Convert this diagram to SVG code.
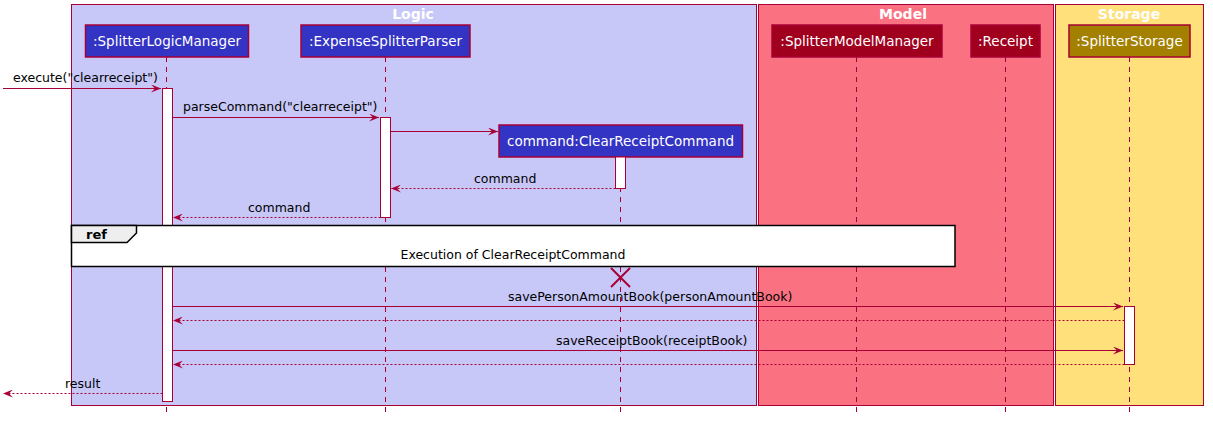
<svg xmlns="http://www.w3.org/2000/svg" width="1213" height="422" viewBox="0 0 1213 422">
<style>
.grp{stroke:#A80036;stroke-width:1}
.gt{font-family:"DejaVu Sans","Liberation Sans",sans-serif;font-size:14px;font-weight:bold;fill:#FFFFFF;text-anchor:middle}
.pbox{stroke:#A80036;stroke-width:1.5}
.pt{font-family:"DejaVu Sans","Liberation Sans",sans-serif;font-size:13.5px;fill:#FFFFFF;text-anchor:middle}
.life{stroke:#A80036;stroke-width:1;stroke-dasharray:5,5;fill:none}
.act{fill:#FFFFFF;stroke:#A80036;stroke-width:1}
.msg{stroke:#A80036;stroke-width:1;fill:none;marker-end:url(#ah)}
.ret{stroke:#A80036;stroke-width:1;stroke-dasharray:2,2;fill:none;marker-end:url(#ah)}
.ml{font-family:"DejaVu Sans","Liberation Sans",sans-serif;font-size:12.5px;fill:#000000}
</style>
<defs>
<marker id="ah" viewBox="0 0 10 8" refX="10" refY="4" markerWidth="10" markerHeight="8" markerUnits="userSpaceOnUse" orient="auto">
<path d="M0,0 L10,4 L0,8 L4,4 Z" fill="#A80036"/>
</marker>
</defs>
<rect width="1213" height="422" fill="#FFFFFF"/>
<g id="box-logic">
<rect class="grp" x="71.5" y="4.5" width="685" height="401" fill="#C8C8F8"/>
<text class="gt" x="413" y="19">Logic</text>
</g>
<g id="box-model">
<rect class="grp" x="758.5" y="4.5" width="295" height="401" fill="#FA7282"/>
<text class="gt" x="903" y="19">Model</text>
</g>
<g id="box-storage">
<rect class="grp" x="1055.5" y="4.5" width="148" height="401" fill="#FFE07A"/>
<text class="gt" x="1129" y="19">Storage</text>
</g>
<g id="lifelines">
<line class="life" x1="166.5" y1="57" x2="166.5" y2="412"/>
<line class="life" x1="385.5" y1="57" x2="385.5" y2="412"/>
<line class="life" x1="620.5" y1="157" x2="620.5" y2="412"/>
<line class="life" x1="856.5" y1="57" x2="856.5" y2="412"/>
<line class="life" x1="1005.5" y1="57" x2="1005.5" y2="412"/>
<line class="life" x1="1129.5" y1="57" x2="1129.5" y2="412"/>
</g>
<g id="p-logicmanager">
<rect class="pbox" x="85.5" y="25" width="163" height="32" fill="#3333C4"/>
<text class="pt" x="167" y="46">:SplitterLogicManager</text>
</g>
<g id="p-parser">
<rect class="pbox" x="301" y="25" width="169" height="32" fill="#3333C4"/>
<text class="pt" x="385.5" y="46">:ExpenseSplitterParser</text>
</g>
<g id="p-modelmanager">
<rect class="pbox" x="772" y="25" width="170" height="32" fill="#A0001E"/>
<text class="pt" x="857" y="46">:SplitterModelManager</text>
</g>
<g id="p-receipt">
<rect class="pbox" x="971" y="25" width="69" height="32" fill="#A0001E"/>
<text class="pt" x="1005.5" y="46">:Receipt</text>
</g>
<g id="p-storage">
<rect class="pbox" x="1069" y="25" width="121" height="32" fill="#A38000"/>
<text class="pt" x="1129.5" y="46">:SplitterStorage</text>
</g>
<g id="p-command">
<rect class="pbox" x="499" y="125" width="243.5" height="32" fill="#3333C4"/>
<text class="pt" x="620.5" y="146">command:ClearReceiptCommand</text>
</g>
<g id="activations">
<rect class="act" x="162.5" y="88.5" width="10" height="313"/>
<rect class="act" x="380.5" y="117.5" width="10" height="100"/>
<rect class="act" x="615.5" y="157" width="10" height="31.5"/>
<rect class="act" x="1124.5" y="306.5" width="10" height="58"/>
</g>
<g id="connectors">
<line class="msg" x1="3" y1="88.5" x2="161" y2="88.5"/>
<text class="ml" x="13" y="82">execute("clearreceipt")</text>
<line class="msg" x1="172.5" y1="117.5" x2="379" y2="117.5"/>
<text class="ml" x="183" y="111">parseCommand("clearreceipt")</text>
<line class="msg" x1="390.5" y1="131.5" x2="498" y2="131.5"/>
<line class="ret" x1="615.5" y1="188.5" x2="391" y2="188.5"/>
<text class="ml" x="474" y="183">command</text>
<line class="ret" x1="380.5" y1="217.5" x2="173" y2="217.5"/>
<text class="ml" x="248" y="212">command</text>
<line class="msg" x1="172.5" y1="306.5" x2="1123" y2="306.5"/>
<text class="ml" x="508" y="301">savePersonAmountBook(personAmountBook)</text>
<line class="ret" x1="1124.5" y1="320.5" x2="173" y2="320.5"/>
<line class="msg" x1="172.5" y1="350.5" x2="1123" y2="350.5"/>
<text class="ml" x="556" y="345">saveReceiptBook(receiptBook)</text>
<line class="ret" x1="1124.5" y1="364.5" x2="173" y2="364.5"/>
<line class="ret" x1="162.5" y1="393.5" x2="3" y2="393.5"/>
<text class="ml" x="65" y="388">result</text>
</g>
<g id="destroy">
<path d="M611,268 L630,287 M630,268 L611,287" stroke="#A80036" stroke-width="2" fill="none"/>
</g>
<g id="ref">
<rect x="71.5" y="225.5" width="883.5" height="41" fill="#FFFFFF" stroke="#000000" stroke-width="1.5"/>
<path d="M71.5,225.5 L136.5,225.5 L136.5,233 L127,242.5 L71.5,242.5 Z" fill="#EEEEEE" stroke="#000000" stroke-width="1.5"/>
<text x="86" y="239" font-family="DejaVu Sans, Liberation Sans, sans-serif" font-size="13" font-weight="bold" fill="#000000">ref</text>
<text x="513" y="259" text-anchor="middle" class="ml">Execution of ClearReceiptCommand</text>
</g>
</svg>
